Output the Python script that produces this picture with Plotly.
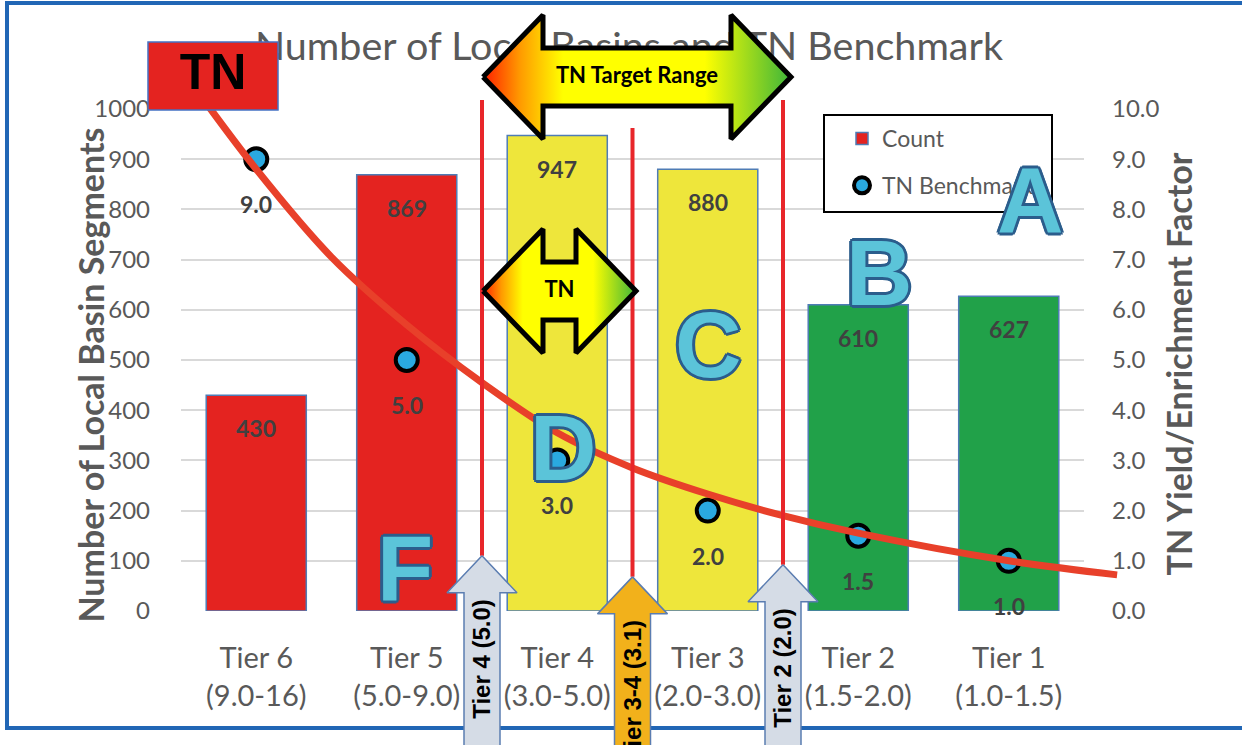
import plotly.graph_objects as go

W, H = 1242, 745

# ---------------------------------------------------------------- data
tiers = ["Tier 6", "Tier 5", "Tier 4", "Tier 3", "Tier 2", "Tier 1"]
tier_ranges = ["(9.0-16)", "(5.0-9.0)", "(3.0-5.0)", "(2.0-3.0)", "(1.5-2.0)", "(1.0-1.5)"]
counts = [430, 869, 947, 880, 610, 627]
benchmark = [9.0, 5.0, 3.0, 2.0, 1.5, 1.0]
bar_colors = ["#E42320", "#E42320", "#EEE63B", "#EEE63B", "#21A149", "#21A149"]

# hand-drawn TN trend curve: (category position, yield factor)
trend_pos = [-0.45, 0.0, 0.5, 1.0, 1.5, 2.0, 2.5, 3.0, 3.5, 4.0, 5.0, 5.72]
trend_val = [10.6, 8.8, 7.05, 5.7, 4.55, 3.55, 2.85, 2.33, 1.9, 1.55, 1.0, 0.72]

# tier boundaries, each marked by a red line and an upward block arrow
boundary_pos = [1.5, 2.5, 3.5]
boundary_labels = ["Tier 4 (5.0)", "Tier 3-4 (3.1)", "Tier 2 (2.0)"]
boundary_tip = [1.10, 0.68, 0.92]
boundary_top = [10.18, 9.62, 10.18]
boundary_fill = ["#D5DCE6", "#F2B11B", "#D5DCE6"]

# zone letters (category position, yield factor)
zone_letters = ["A", "B", "C", "D", "F"]
zone_pos = [5.14, 4.14, 3.0, 2.04, 0.99]
zone_val = [8.19, 6.73, 5.30, 3.25, 0.86]

# ------------------------------------------------------------ geometry
PLOT_L, PLOT_R, PLOT_T, PLOT_B = 181, 1084, 109, 611
dom_x = [PLOT_L / W, PLOT_R / W]
dom_y = [1 - PLOT_B / H, 1 - PLOT_T / H]
x_rng = [-0.5, 5.5]
count_rng = [0, 1000]
yield_rng = [0, 10]
ux = (x_rng[1] - x_rng[0]) / (PLOT_R - PLOT_L)        # category units per px
uy = (yield_rng[1] - yield_rng[0]) / (PLOT_B - PLOT_T)  # yield units per px
full_x = [x_rng[0] - PLOT_L * ux, x_rng[1] + (W - PLOT_R) * ux]
full_y = [yield_rng[0] - (H - PLOT_B) * uy, yield_rng[1] + PLOT_T * uy]


def fx(px):
    return x_rng[0] + (px - PLOT_L) * ux


def fy(py):
    return yield_rng[0] + (PLOT_B - py) * uy


GRAY = "#595959"
FONT = "Lato"

fig = go.Figure()

# bars (count, left axis)
fig.add_trace(go.Bar(
    x=list(range(len(tiers))), y=counts, name="Count", width=0.665,
    marker=dict(color=bar_colors, line=dict(color="#4F7CB5", width=1.5)),
    xaxis="x", yaxis="y", legendgroup="count",
))

# benchmark points (right axis)
fig.add_trace(go.Scatter(
    x=list(range(len(tiers))), y=benchmark, name="TN Benchmark", mode="markers",
    marker=dict(size=22, color="#2AA9E0", line=dict(color="black", width=4)),
    xaxis="x", yaxis="y2", legendgroup="bench",
))

over = dict(xaxis="x3", yaxis="y3", showlegend=False, hoverinfo="skip")

# chart title (sits underneath the arrow graphics)
fig.add_trace(go.Scatter(
    x=[fx(629)], y=[fy(50)], mode="text",
    text=["Number of Local Basins and TN Benchmark"],
    textfont=dict(family=FONT, size=39.5, color=GRAY), **over,
))

# TN trend curve
fig.add_trace(go.Scatter(
    x=trend_pos, y=trend_val, mode="lines",
    line=dict(color="#E8402A", width=7, shape="spline", smoothing=1.0), **over,
))

# red boundary lines
for xb, top, tip in zip(boundary_pos, boundary_top, boundary_tip):
    fig.add_trace(go.Scatter(
        x=[xb, xb], y=[top, tip], mode="lines",
        line=dict(color="#E8262A", width=4), **over,
    ))


def up_arrow(xc, tip, head=37, half_head=35, half_shaft=18):
    hh, hw, sw = head * uy, half_head * ux, half_shaft * ux
    bot = full_y[0] - 1
    xs = [xc, xc + hw, xc + sw, xc + sw, xc - sw, xc - sw, xc - hw, xc]
    ys = [tip, tip - hh, tip - hh, bot, bot, tip - hh, tip - hh, tip]
    return xs, ys


for xb, tip, col in zip(boundary_pos, boundary_tip, boundary_fill):
    xs, ys = up_arrow(xb, tip)
    fig.add_trace(go.Scatter(
        x=xs, y=ys, mode="lines", fill="toself", fillcolor=col,
        line=dict(color="#5B7DB1", width=1.5), **over,
    ))


def double_arrow(x0, x1, yc, head=60, half_head=62, half_shaft=29):
    h, hh, s = head * ux, half_head * uy, half_shaft * uy
    xs = [x0, x0 + h, x0 + h, x1 - h, x1 - h, x1, x1 - h, x1 - h, x0 + h, x0 + h, x0]
    ys = [yc, yc + hh, yc + s, yc + s, yc + hh, yc, yc - hh, yc - s, yc - s, yc - hh, yc]
    return xs, ys


grad = [[0.0, "#FF1E00"], [0.12, "#FF9A00"], [0.26, "#FFFF00"],
        [0.72, "#FFFF00"], [1.0, "#3DB53A"]]
for (x0, x1, yc, label) in [(fx(483), fx(791), fy(77), "TN Target Range"),
                            (fx(483), fx(636), fy(291), "TN")]:
    xs, ys = double_arrow(x0, x1, yc)
    fig.add_trace(go.Scatter(
        x=xs, y=ys, mode="lines", fill="toself",
        fillgradient=dict(type="horizontal", colorscale=grad),
        line=dict(color="black", width=5), **over,
    ))
    fig.add_trace(go.Scatter(
        x=[(x0 + x1) / 2], y=[yc], mode="text", text=[label],
        textfont=dict(family=FONT, size=22, color="black", weight="bold"), **over,
    ))

# red "TN" tag in the upper left
bx0, bx1, by0, by1 = fx(148), fx(278), fy(110), fy(42)
fig.add_trace(go.Scatter(
    x=[bx0, bx1, bx1, bx0, bx0], y=[by0, by0, by1, by1, by0], mode="lines",
    fill="toself", fillcolor="#E42320", line=dict(color="#4472C4", width=1.5), **over,
))
fig.add_trace(go.Scatter(
    x=[(bx0 + bx1) / 2], y=[(by0 + by1) / 2], mode="text", text=["TN"],
    textfont=dict(family="Liberation Sans", size=50, color="black", weight="bold"), **over,
))

# ---------------------------------------------------------- annotations
ann = []
for i, c in enumerate(counts):
    ann.append(dict(x=i, y=c, xref="x", yref="y", text=str(c), showarrow=False,
                    yshift=-33, font=dict(family=FONT, size=23, color="#404040", weight="bold")))
for i, b in enumerate(benchmark):
    ann.append(dict(x=i, y=b, xref="x", yref="y2", text=f"{b:.1f}", showarrow=False,
                    yshift=-45, font=dict(family=FONT, size=23, color="#404040", weight="bold")))

ann.append(dict(x=67 / W, y=1 - 375 / H, xref="paper", yref="paper", showarrow=False,
                text="Number of Local Basin Segments", textangle=-90,
                font=dict(family=FONT, size=34, color=GRAY, weight="bold")))
ann.append(dict(x=1200 / W, y=1 - 364 / H, xref="paper", yref="paper", showarrow=False,
                text="TN Yield/Enrichment Factor", textangle=-90,
                font=dict(family=FONT, size=34, color=GRAY, weight="bold")))

for xb, tip, label in zip(boundary_pos, boundary_tip, boundary_labels):
    ann.append(dict(x=xb, y=tip - 41 * uy, xref="x3", yref="y3", showarrow=False,
                    text=label, textangle=-90, yanchor="top",
                    font=dict(family="Liberation Sans", size=24, color="black", weight="bold")))

edge = "#2B5D8C"
outline = ", ".join(f"{dx}px {dy}px 0 {edge}" for dx, dy in
                    [(3, 0), (-3, 0), (0, 3), (0, -3), (2, 2), (-2, -2), (2, -2), (-2, 2)])
for letter, xp, yv in zip(zone_letters, zone_pos, zone_val):
    ann.append(dict(x=xp, y=yv, xref="x3", yref="y3", text=letter, showarrow=False,
                    font=dict(family="Liberation Sans", size=92, color="#5BC4D9",
                              weight="bold", shadow=outline)))

# --------------------------------------------------------------- shapes
frame = "#2166B5"
shapes = [
    dict(type="line", xref="paper", yref="paper", x0=5 / W, x1=1, y0=1 - 3 / H, y1=1 - 3 / H,
         line=dict(color=frame, width=4), layer="below"),
    dict(type="line", xref="paper", yref="paper", x0=7 / W, x1=7 / W, y0=1 - 3 / H, y1=1 - 728 / H,
         line=dict(color=frame, width=4), layer="below"),
    dict(type="line", xref="paper", yref="paper", x0=5 / W, x1=1, y0=1 - 728 / H, y1=1 - 728 / H,
         line=dict(color=frame, width=4), layer="below"),
    dict(type="rect", xref="paper", yref="paper", x0=824 / W, x1=1052 / W,
         y0=1 - 212 / H, y1=1 - 115 / H, fillcolor="white",
         line=dict(color="black", width=2), layer="above"),
]

fig.update_layout(
    width=W, height=H, margin=dict(l=0, r=0, t=0, b=0, autoexpand=False),
    paper_bgcolor="white", plot_bgcolor="rgba(0,0,0,0)",
    font=dict(family=FONT, color=GRAY),
    bargap=0.335,
    showlegend=True,
    legend=dict(x=842 / W, y=1 - 117 / H, xanchor="left", yanchor="top",
                bgcolor="rgba(0,0,0,0)", borderwidth=0, traceorder="grouped",
                tracegroupgap=14, font=dict(family=FONT, size=23, color=GRAY)),
    xaxis=dict(domain=dom_x, range=x_rng, anchor="y", automargin=False,
               tickvals=list(range(len(tiers))),
               ticktext=[f"{t}<br>{r}" for t, r in zip(tiers, tier_ranges)],
               showgrid=False, zeroline=False, showline=False, ticks="",
               ticklabelstandoff=27, tickfont=dict(family=FONT, size=29, color=GRAY)),
    yaxis=dict(domain=dom_y, range=count_rng, anchor="x", dtick=100, automargin=False,
               showgrid=True, gridcolor="#D9D9D9", gridwidth=2, zeroline=False,
               showline=False, ticks="", ticklabelstandoff=30,
               tickfont=dict(family=FONT, size=24, color=GRAY)),
    yaxis2=dict(overlaying="y", side="right", range=yield_rng, anchor="x", dtick=1,
                tickformat=".1f", showgrid=False, zeroline=False, showline=False,
                ticks="", ticklabelstandoff=27, automargin=False,
                tickfont=dict(family=FONT, size=24, color=GRAY)),
    xaxis3=dict(domain=[0, 1], range=full_x, anchor="y3", visible=False, automargin=False),
    yaxis3=dict(domain=[0, 1], range=full_y, anchor="x3", visible=False, automargin=False),
    annotations=ann,
    shapes=shapes,
)

fig.write_html("out.html")
